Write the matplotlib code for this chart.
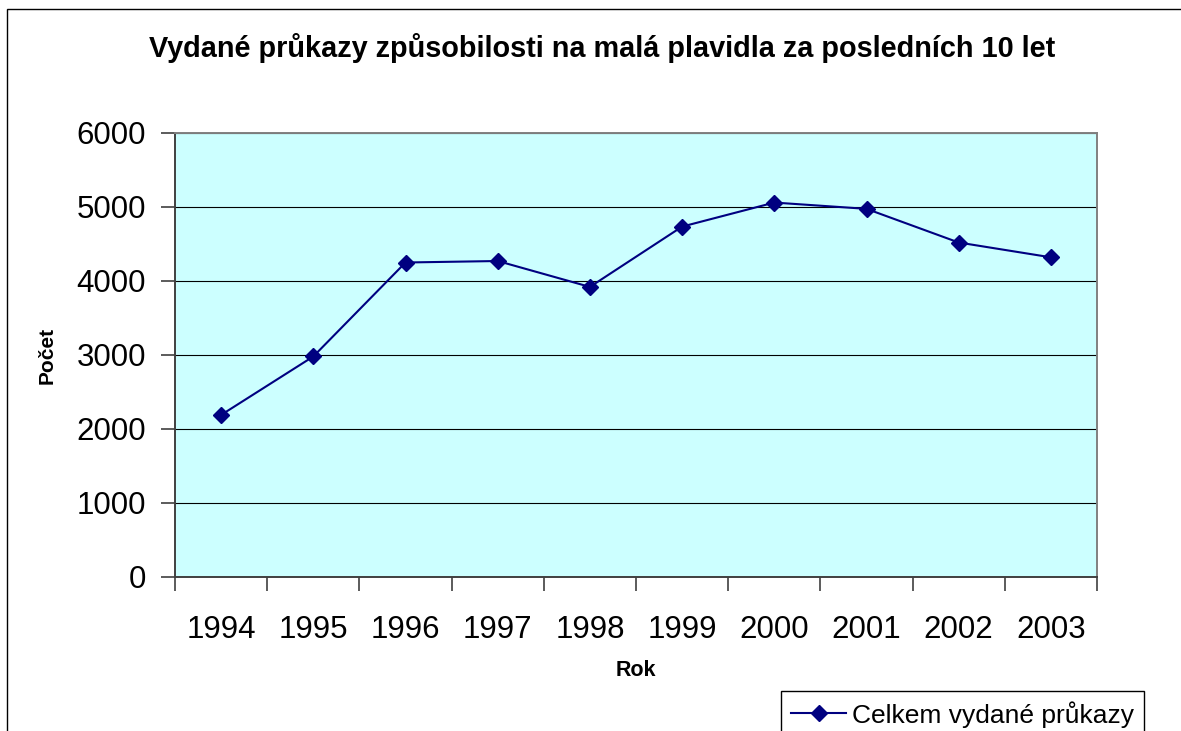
import matplotlib
matplotlib.use("Agg")
import matplotlib.pyplot as plt
from matplotlib.patches import Rectangle

plt.rcParams['font.family'] = ['Liberation Sans', 'DejaVu Sans']

years = ['1994', '1995', '1996', '1997', '1998', '1999', '2000', '2001', '2002', '2003']
counts = [2190, 2980, 4250, 4270, 3920, 4735, 5060, 4975, 4520, 4320]
yticks = [0, 1000, 2000, 3000, 4000, 5000, 6000]

title = 'Vydané průkazy způsobilosti na malá plavidla za posledních 10 let'
xlabel = 'Rok'
ylabel = 'Počet'
series_name = 'Celkem vydané průkazy'

W, H = 1181, 731
fig = plt.figure(figsize=(W / 100, H / 100), dpi=100)
fig.patch.set_facecolor('white')

# outer chart border (cropped at right/bottom)
fig.patches.append(Rectangle((7 / W, -0.1), 1.2, 1 - 9 / H + 0.1,
                             transform=fig.transFigure, fill=False,
                             edgecolor='black', linewidth=1.0))

ax = fig.add_axes([175 / W, (H - 577) / H, 922 / W, 444 / H])
ax.set_facecolor('#CCFFFF')

x = list(range(len(years)))
ax.plot(x, counts, color='#000080', linewidth=1.5, marker='D',
        markersize=8.5, markerfacecolor='#000080', markeredgecolor='#000080',
        label=series_name, zorder=3)

ax.set_xlim(-0.5, len(years) - 0.5)
ax.set_ylim(0, 6000)

ax.set_yticks(yticks)
ax.set_yticklabels([str(v) for v in yticks])
ax.set_xticks([i - 0.5 for i in range(len(years) + 1)])
ax.set_xticklabels([])
ax.set_xticks(x, minor=True)
ax.set_xticklabels(years, minor=True)

ax.tick_params(axis='x', which='major', length=10, width=1.2, color='#404040', direction='out')
ax.tick_params(axis='x', which='minor', length=0, labelsize=22.5, pad=27)
ax.tick_params(axis='y', length=10, width=1.2, color='#404040', direction='out',
               labelsize=22.5, pad=11)

ax.grid(axis='y', color='black', linewidth=0.8)
ax.set_axisbelow(True)

for s in ['left', 'bottom']:
    ax.spines[s].set_color('#404040')
    ax.spines[s].set_linewidth(1.4)
for s in ['top', 'right']:
    ax.spines[s].set_color('#808080')
    ax.spines[s].set_linewidth(1.4)

ax.set_xlabel(xlabel, fontsize=15.5, fontweight='bold', va='center')
ax.xaxis.set_label_coords(0.5, (577 - 671) / 444)
ax.set_ylabel(ylabel, fontsize=15, fontweight='bold', va='center')
ax.yaxis.set_label_coords((47 - 175) / 922, 0.5)

fig.text(602 / W, (H - 57) / H, title, ha='center', va='baseline',
         fontsize=20.8, fontweight='bold')

leg = ax.legend(loc='upper left', bbox_to_anchor=(781 / W, 1 - 691 / H),
                bbox_transform=fig.transFigure, borderaxespad=0,
                fontsize=19, frameon=True, fancybox=False, shadow=False,
                handlelength=2.1, handletextpad=0.2, borderpad=0.38)
leg.get_frame().set_edgecolor('black')
leg.get_frame().set_linewidth(1.0)
leg.get_frame().set_alpha(1)

fig.savefig('out.png', dpi=100)
